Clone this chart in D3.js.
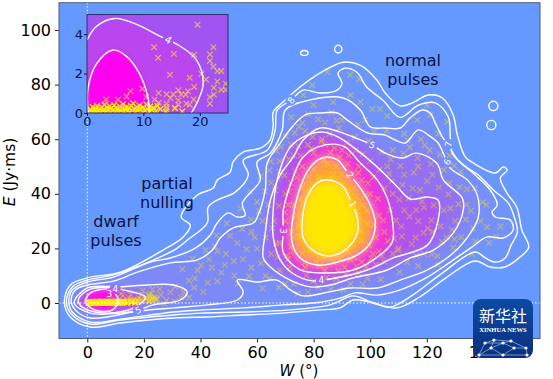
<!DOCTYPE html>
<html>
<head>
<meta charset="utf-8">
<script src="https://cdnjs.cloudflare.com/ajax/libs/d3/7.8.5/d3.min.js"></script>
<style>
  html, body { margin: 0; background: #fff; }
  text { font-family: "DejaVu Sans", sans-serif; }
</style>
</head>
<body>
<div id="chart"></div>
<script>
// Contour levels as [W, E]
const level1 = [[85.2,45.1],[90.5,42.5],[92.9,37.7],[95.4,31.5],[95.4,25.6],[91.9,20.1],[85.9,17.2],[80.6,18.7],[76.3,23.8],[76,30.4],[77.7,38.8],[81.3,44]];
const level2 = [[84.8,53.5],[88.4,52.4],[91.9,48],[96.5,42.1],[100,35.9],[101.8,29.3],[100,22],[95.4,17.6],[88.4,15],[81.3,13.9],[75.3,16.5],[72.4,22],[72.4,29.3],[74.6,40.3],[78.1,48.7],[81.6,52.4]];
const level3 = [[86.9,58.2],[91.2,57.1],[96.5,51.3],[102.5,45.1],[106,38.5],[108.1,27.8],[107.8,22.3],[102.5,16.8],[94,12.1],[83.4,11],[75.3,12.1],[69.3,18.3],[69.3,26.4],[69.3,34.1],[72.4,45.1],[76,53.1],[81.3,57.1]];
const level4 = [[83.4,62.6],[88.7,60.8],[94,57.1],[102.5,49.8],[109.6,42.5],[114.1,38.1],[120.2,38.8],[124,37.7],[124,30.4],[120.2,21.2],[108.1,16.5],[99,12.1],[85.9,8.8],[79.5,8.1],[72.4,11],[68.2,15.8],[65.7,24.2],[65.7,34.1],[67.1,45.1],[71.7,57.1],[77.7,61.5]];
const level5 = [[82.3,64.1],[89.4,62.6],[94,60.8],[100.7,57.9],[105.3,54.9],[111.3,53.1],[115.9,54.9],[120.5,53.5],[124,50.5],[125.8,45.1],[132.5,38.5],[132.9,34.1],[129.3,25.6],[122.3,19.4],[114.1,16.5],[106,12.1],[94,9.2],[85.9,6.6],[78.8,5.9],[71.7,8.4],[64.7,13.2],[62.2,16.5],[62.9,25.6],[64.7,37.7],[68.2,46.9],[72.8,53.5],[76.3,59.7]];
const level6 = [[53,8.4],[55.1,4],[53,1.1],[42.4,-0.7],[30.4,-1.8],[18.7,-2.9],[1.1,-5.5],[-4.2,-2.6],[-5.7,1.1],[-4.2,4.8],[0,6.6],[9.2,8],[17.7,11.3],[29.3,14.7],[38.9,15.8],[44.2,19.4],[47,23.8],[51.6,27.5],[58.7,29.3],[60.1,31.5],[62.9,41.4],[63.6,51.3],[68.2,58.6],[72.4,64.5],[77,68.9],[82.3,69.6],[88.4,69.6],[91.9,67],[99,62.3],[105.3,61.5],[108.8,59.7],[112.4,58.6],[117,63.4],[120.5,61.5],[124,58.6],[125.8,54.9],[128.3,49.4],[134.3,45.1],[137.8,39.6],[138.2,31.5],[135.4,25.6],[129.3,18.3],[120.2,12.1],[110.6,8.4],[102.5,5.5],[92.9,5.5],[85.2,4],[76.3,2.6],[71.7,4.8],[67.1,8.4],[60.1,7.7]];
const level7 = [[39.9,-2.6],[30.4,-3.3],[11.7,-5.9],[1.1,-7],[-5.3,-3.3],[-6.5,0.4],[-5.3,4.8],[0,7.7],[9.2,9.5],[22.3,15],[29.3,16.5],[38.2,20.1],[43.5,24.9],[45.9,29.3],[49.8,33],[53,31.5],[55.8,32.2],[54.8,36.6],[61.1,45],[60,51.6],[64.7,54.9],[68.9,63.4],[70,70.7],[78.8,74.4],[90.5,75.1],[96.5,70.7],[100,64.5],[105.3,64.1],[110.6,64.1],[114.1,67.8],[118.4,70.7],[121.2,69.6],[123,65.9],[125.5,60.8],[127.6,57.9],[130.4,53.1],[137.1,46.9],[142.4,41.4],[144.9,35.9],[143.1,33.3],[144.2,31.5],[149.5,30.4],[150.5,26.7],[147,23.8],[141.4,24.2],[135.4,20.1],[128.3,15],[120.2,9.5],[110.6,4.8],[102.5,2.9],[94.7,3.7],[89.4,1.8],[79.9,0],[69.3,-0.7],[55.1,-1.8]];
const level8 = [[66.4,63.3],[67.1,70.6],[72,74.3],[76.2,78],[82.2,76.9],[88.3,78],[90,80.5],[88.6,84.2],[91,86],[95.3,84.5],[98.8,79],[104.5,74.3],[110.5,68],[117,72.5],[123,73.3],[127.6,68.1],[128.3,60.4],[129,54.9],[132.9,50.5],[138.2,46.9],[143.5,41.4],[148.8,36.6],[150.9,31.5],[152,26],[149.8,21.2],[147.7,16.5],[144.2,15],[140.7,16.5],[137.1,18.7],[124.6,10.3],[115,2.9],[107,-1.5],[101,0],[94,2.6],[85.8,-0.7],[70.6,-2.6],[55,-3.3],[40,-3.7],[30.4,-4.4],[11.7,-6.2],[1,-7.7],[-5.3,-4.4],[-7.4,0.4],[-5.3,5.9],[0,8.4],[9.2,10.3],[23.3,15.7],[31.8,20.1],[35.3,23],[42.4,29.3],[42.7,35.1],[45.9,37.7],[52.3,40.6],[56.9,46.9],[55.1,52.3],[63.6,56]];
const level9 = [[137,15.4],[142.4,13.2],[147.6,13.2],[152.9,16.8],[156,20.5],[153.6,26.7],[151.8,35.1],[148.3,40.3],[146,45.8],[148.4,48.7],[147,49.8],[144.2,47.6],[136.4,51.3],[133.6,53.5],[130.8,61.5],[129.3,68.9],[125.5,75.1],[120.5,76.2],[114.9,73.3],[110.6,72.2],[105.3,76.9],[102.4,81.6],[96.4,87.1],[90.4,88.2],[82.2,84.2],[75.2,79.1],[69.2,73.6],[65.7,69.9],[65.7,65.1],[64.6,59.7],[61.1,56.7],[55.1,55.3],[51.5,51.6],[50.5,48],[45.9,45],[44.5,42.1],[38.8,39.5],[33.2,31.5],[36.4,28.5],[33.9,24.2],[26.8,19.4],[11.7,11.3],[0,9.2],[-6,6.6],[-8.1,0.4],[-6,-5.1],[1.1,-8.8],[11.7,-7.3],[30.4,-5.5],[42.4,-5.1],[55,-4.4],[69.2,-3.7],[81.2,-2.6],[89.3,-1.8],[93.9,1.1],[99.9,0.4],[109.4,-1.8],[117.5,2.2],[127.1,9.5]];
const dwarf3 = [[11,1.1],[8.8,-2.6],[2.8,-2.6],[-0.7,0.4],[1.1,3.7],[8.1,4.8]];
const dwarf4 = [[12.7,4.8],[20.5,2.2],[17,-1.5],[7,-3.7],[-1.4,-1.8],[-3.2,1.1],[0.4,4.8],[9.9,5.5]];
const dwarf5 = [[35.3,4],[32.9,1.1],[23.3,-0.7],[18,-2.6],[11.7,-3.7],[1.1,-3.7],[-4.6,0],[0,5.5],[11.7,5.9],[21.2,6.6],[30.4,6.6]];

// Small closed islands: centre W, centre E, half width, half height
const islands = [[76.7,91.6,1.3,0.9],[88.7,93,1.3,1.4],[143.5,72.2,1.6,1.7],[142.8,65.2,1.6,1.7]];

const contourLevels = [level9, level8, level7, level6, level5, level4, level3, level2, level1, dwarf5, dwarf4, dwarf3];
const fillColors = ["#6a97fd", "#6e95fb", "#7490fa", "#7d89f8", "#9370f4", "#ae55f0", "#f030d8", "#ffa035", "#ffe800", "#8a80f4", "#b850ee", "#ff08e8"];

const contourLabels = [["8",72,74.3,-50],["7",127.6,58.2,-80],["6",127.2,51.6,-65],["5",100.7,57.9,25],["5",18,-2.6,-25],["4",82.7,8.4,0],["4",9.9,5.3,0],["3",69.3,26.4,90],["3",7.8,3.3,0],["2",92.9,46.9,55],["1",94,36.3,60]];

const annotations = [["normal",413,60],["pulses",413,79],["partial",167,183],["nulling",167,202],["dwarf",116,221],["pulses",116,240]];

const xTicks = [0,20,40,60,80,100,120,140];
const yTicks = [0,20,40,60,80,100];
const insetXTicks = [0,10,20];
const insetYTicks = [0,2,4];

// Pulses near the origin, drawn in both panels
const lowPoints = [[0.4,0.05],[0.6,0.18],[0.8,0.1],[1,0.3],[1.1,0.02],[1.3,0.16],[1.5,0.08],[1.6,0.24],[1.8,0.35],[1.9,0.04],[2.1,0.14],[2.3,0.22],[2.5,0.06],[2.6,0.3],[2.8,0.12],[3,0.2],[3.1,0.42],[3.3,0.03],[3.5,0.27],[3.6,0.1],[3.8,0.18],[4,0.34],[4.2,0.05],[4.3,0.23],[4.6,0.14],[4.8,0.4],[5,0.08],[5.2,0.28],[5.4,0.17],[5.6,0.02],[5.8,0.33],[6,0.12],[6.2,0.24],[6.4,0.45],[6.6,0.07],[6.8,0.19],[7,0.31],[7.2,0.1],[7.4,0.26],[7.6,0.04],[7.8,0.37],[8,0.15],[8.2,0.48],[8.4,0.22],[8.6,0.06],[8.8,0.3],[9,0.13],[9.3,0.38],[9.5,0.2],[9.8,0.04],[10,0.29],[10.3,0.12],[10.5,0.44],[10.7,0.22],[11,0.06],[11.2,0.33],[11.5,0.15],[11.8,0.26],[12.2,0.09],[12.5,0.36],[13,0.2],[14,0.06],[15.6,0.25],[16.9,0.08]];
const scatterPoints = [[19.6,4.48],[11.9,3.34],[22.4,3.34],[12.6,2.8],[15.4,3],[19,2.96],[21.8,2.97],[21.8,2.64],[22.4,2.36],[23.1,2.13],[23.8,2.13],[14.7,1.94],[18.2,1.79],[20.3,1.99],[21.1,1.7],[23.1,1.6],[24.6,1.49],[7.7,1.11],[9.8,1.23],[3.4,0.69],[5.5,0.68],[7,0.84],[12.7,1.01],[16.2,1.15],[19,1.32],[17.9,1.1],[16.7,0.95],[17.5,0.93],[15.3,0.95],[14.1,0.95],[14.8,0.76],[10.5,0.81],[12,0.68],[12.7,0.52],[18.9,0.69],[17.6,0.47],[18.2,0.42],[16.2,0.64],[16.2,0.42],[15.6,0.25],[14.1,0.47],[14.1,0.3],[14.1,0.19],[22.5,1.28],[23.8,1.18],[24.6,1.18],[21.8,0.81],[22.5,0.93],[21.8,0.47]];

// Normal and partially nulled pulses, main panel only
const bodyPoints = [
  [84.8,84.6],[92.9,83.5],[96,82],[79.5,79.8],[76.3,76.2],[93,76.2],[96.5,73.6],[86.9,73.6],[80,72.5],[100.7,71],[103.5,71],[106,68.5],[98.2,67],[120,72.5],[121.2,68.8],[116.6,67],[127.2,66.3],[72,68],[76,66],[84,66],[90,67],[112,62],[118,60],[124,62],[108,56],[114,57],[121,56],[128,54],[132,48],[137,42],[141,36],[146,28],[142,22],[136,18],[139,30],[134,36],
  [128,44],[122,47],[117,50],[112,47],[106,50],[126,34],[130,30],[127,24],[122,26],[117,30],[112,34],[108,40],[115,42],[119,35],[111,28],[116,24],[110,20],[105,15],[99,9],[93,7],[86,5],[78,4],[70,7],[63,10],[58,13],[52,10],[46,8],[41,4],[36,2],[31,6],[26,3],[23,5],[21,1],[28,1],[34,4],[38,9],[44,13],[49,18],[55,16],[60,20],[58,26],[53,22],[46,19],
  [43,16],[39,12],[62,30],[60,37],[65,44],[68,52],[72,58],[77,63],[83,60],[89,64],[95,56],[100,52],[65,18],[68,12],[73,7],[80,8],[88,9],[96,11],[102,14],[108,18],[113,15],[119,18],[124,14],[63,24],[66,30],[64,36],[70,40],[68,48],[73,54],[78,58],[84,58],[90,56],[96,50],[101,46],[105,42],[107,34],[105,26],[103,19],[97,15],[91,13],[84,12],[77,13],[71,16],[68,22],
  [70,30],[71,36],[72,44],[76,50],[80,55],[86,55],[92,51],[97,45],[100,40],[103,32],[102,24],[98,20],[93,16],[87,15],[81,15],[76,18],[73,24],[74,32],[75,38],[77,44],[80,49],[85,51],[90,47],[94,42],[97,36],[99,29],[97,23],[92,19],[86,18],[80,20],[77,26],[78,33],[79,40],[82,46],[87,47],[91,41],[94,35],[95,28],[91,23],[85,21],[81,24],[80,30],[81,37],[84,42],[88,40],[91,34],[92,28],[88,24],[84,26],[83,32],[85,36],[88,33],[86,29],[84,39],[89,30],[82,28],[87,37],[90,26],[83,22],[86,43],[79,35],[93,31],[76,29],[95,39],[74,46],[88,50],[99,34],[73,19],[101,18],
  // denser parts of the cloud
  [70.6,17.4],[72.3,26.1],[69.8,33.2],[71.2,40.7],[73.6,48.2],[75.4,53.9],[79.1,56.6],[82.7,59.2],[87.3,56.8],[92.4,54.1],[95.8,47.7],[99.2,43.9],[102.7,38.2],[104.6,30.3],[106.2,22.7],[100.4,16.3],[95.1,13.4],[88.7,11.8],[82.2,13.6],[76.8,14.9],[72.1,20.6],[74.7,28.4],[73.1,35.8],[75.8,41.9],[78.2,46.3],[83.4,52.2],[89.1,53.4],[93.6,47.1],[98.2,39.3],[101.3,28.6],[99.6,21.2],[94.3,16.8],[89.4,16.2],[83.7,16.9],[78.6,19.7],[75.2,24.3],[78.9,29.6],[80.4,34.2],[82.6,41.1],[86.2,45.7],[89.9,43.1],[92.8,37.6],[93.9,30.8],[92.1,25.4],[87.1,21.9],[82.8,19.4],[79.8,27.3],[83.9,30.1],[86.4,34.8],[89.3,37.2],[90.8,31.7],[88.6,27.6],[85.2,24.7],[81.9,32.8],[84.1,36.7],[87.8,41.6],[91.1,28.3],[86.9,31.4],[83.2,26.8],[80.7,41.8],[78.3,36.4],[94.7,33.6],[96.9,26.2],[90.2,20.7],
  [66.7,21.8],[65.3,27.4],[67.8,35.6],[66.4,41.3],[69.7,46.8],[71.3,52.7],[74.6,57.4],[79.7,60.8],[85.6,61.9],[91.8,58.7],[97.4,54.6],[103.2,48.8],[107.7,44.6],[110.3,37.9],[109.1,30.2],[108.4,23.6],[104.2,17.1],[98.6,13.2],[91.3,10.4],[84.6,9.3],[77.4,10.2],[71.6,13.1],[67.2,16.8],[113.6,38.4],[118.3,37.2],[122.4,35.8],[121.6,30.3],[118.8,25.7],[114.7,21.6],[111.2,24.4],[113.9,31.7],[109.8,19.3],[116.2,34.1],[120.3,27.4],[124.8,28.1],[128.3,34.7],[131.2,36.2],[127.6,39.8],[124.2,42.3],[120.1,44.7],[115.4,47.8],[110.6,50.2],[106.7,47.3],[111.4,43.2],[117.6,41.4],[128.9,26.8],[125.3,22.4],[121.7,17.9],[116.4,17.3],[133.7,30.6],[136.4,27.2],[132.2,24.1],[129.4,20.2],[135.6,33.8],[131.6,42.4],[126.1,48.7],[121.4,50.9],[116.7,53.1],[111.8,54.7],[107.3,52.6],[103.9,55.4],[99.4,59.3],[94.6,60.7],[88.2,66.8],[81.6,67.3],[74.8,64.6],[70.2,61.1],[66.9,55.7],[64.3,48.6],[62.8,40.9],[60.7,33.7],[59.2,24.1],[56.3,19.7],[51.8,15.3],[47.4,11.2],[42.6,7.4],[37.7,5.6],[33.2,2.1],[29.4,3.9],[25.6,5.1],[24.1,1.8],[27.3,-0.4],[30.8,0.6],[35.9,8.2],[40.2,13.7],[45.1,20.8],[50.4,24.6],[54.7,27.1],[57.8,30.6],[48.6,13.9],[53.3,7.1],[57.2,9.8],[61.4,14.6],[64.6,8.9],[61.9,5.3],[67.7,5.7],[74.4,3.4],[81.7,5.8],[90.6,4.9],[97.3,6.8],[103.7,8.6],[110.4,11.3],[116.9,13.6],[123.7,17.2],[129.8,23.4],[137.2,22.6],[141.3,27.8],[144.6,24.3],[139.7,36.9],[134.2,41.7],[129.6,50.3],[124.7,54.3],[119.3,57.8],[113.2,59.6],[105.8,63.2],[101.3,62.8],[95.6,65.4],[86.3,69.8],[78.1,69.2],[73.3,62.4],[68.4,57.2],[64.9,51.9],[61.3,46.4],[57.6,40.8],[54.2,34.6],[49.3,29.2],[45.7,24.7],[41.8,19.3],[37.2,16.1],[33.6,12.4]
];

const width = 553;
const height = 379;
const svg = d3.select("#chart").append("svg").attr("width", width).attr("height", height);
const defs = svg.append("defs");

const x = d3.scaleLinear().domain([-10, 160]).range([59, 540]);
const y = d3.scaleLinear().domain([-13, 110]).range([338.5, 2.7]);
const insetX = d3.scaleLinear().domain([0, 25]).range([87, 228]);
const insetY = d3.scaleLinear().domain([0, 5]).range([113, 14.5]);

defs.append("clipPath").attr("id", "plotClip").append("rect")
  .attr("x", x(-10)).attr("y", y(110)).attr("width", x(160) - x(-10)).attr("height", y(-13) - y(110));
defs.append("clipPath").attr("id", "insetClip").append("rect")
  .attr("x", insetX(0)).attr("y", insetY(5)).attr("width", insetX(25) - insetX(0)).attr("height", insetY(0) - insetY(5));
defs.append("filter").attr("id", "soft").attr("x", "-20%").attr("y", "-20%").attr("width", "140%").attr("height", "140%")
  .append("feGaussianBlur").attr("stdDeviation", 4);
defs.append("filter").attr("id", "softer").attr("x", "-30%").attr("y", "-30%").attr("width", "160%").attr("height", "160%")
  .append("feGaussianBlur").attr("stdDeviation", 2);
defs.append("filter").attr("id", "blurMarks").attr("x", "0%").attr("y", "0%").attr("width", "100%").attr("height", "100%")
  .append("feGaussianBlur").attr("stdDeviation", 0.5);

const closedLine = (sx, sy) => d3.line().x(d => sx(d[0])).y(d => sy(d[1])).curve(d3.curveCatmullRomClosed.alpha(0.5));
const openLine = (sx, sy) => d3.line().x(d => sx(d[0])).y(d => sy(d[1])).curve(d3.curveCatmullRom.alpha(0.5));
const cross = "M-2.8,-2.8L2.8,2.8M-2.8,2.8L2.8,-2.8";
const bg = "#6699ff";

// Main panel
const plot = svg.append("g").attr("clip-path", "url(#plotClip)");
plot.append("rect").attr("x", x(-10)).attr("y", y(110)).attr("width", x(160) - x(-10)).attr("height", y(-13) - y(110)).attr("fill", bg);

const path = closedLine(x, y);
plot.append("g").attr("filter", "url(#soft)").selectAll("path")
  .data(contourLevels.slice(0, 9))
  .enter().append("path")
  .attr("d", path)
  .attr("fill", (d, i) => fillColors[i]);
plot.append("g").attr("filter", "url(#softer)").selectAll("path")
  .data(contourLevels.slice(9))
  .enter().append("path")
  .attr("d", path)
  .attr("fill", (d, i) => fillColors[i + 9]);

plot.append("g").attr("filter", "url(#blurMarks)").selectAll("path")
  .data(bodyPoints.concat(scatterPoints))
  .enter().append("path")
  .attr("transform", d => `translate(${x(d[0])},${y(d[1])})`)
  .attr("d", cross)
  .attr("stroke", "#ffe600")
  .attr("stroke-width", 1.3)
  .attr("stroke-opacity", 0.38)
  .attr("fill", "none");
plot.append("g").selectAll("path")
  .data(lowPoints)
  .enter().append("path")
  .attr("transform", d => `translate(${x(d[0])},${y(d[1])})`)
  .attr("d", cross)
  .attr("stroke", "#ffee00")
  .attr("stroke-width", 1.4)
  .attr("fill", "none");

plot.append("line").attr("x1", x(-10)).attr("x2", x(160)).attr("y1", y(0)).attr("y2", y(0))
  .attr("stroke", "#fff").attr("stroke-width", 1).attr("stroke-dasharray", "1.5,2");
plot.append("line").attr("x1", x(0)).attr("x2", x(0)).attr("y1", y(110)).attr("y2", y(-13))
  .attr("stroke", "#fff").attr("stroke-width", 1).attr("stroke-dasharray", "1.5,2");

// Contour lines, with gaps where the labels sit
const labelMask = defs.append("mask").attr("id", "labelGaps").attr("maskUnits", "userSpaceOnUse")
  .attr("x", 0).attr("y", 0).attr("width", width).attr("height", height);
labelMask.append("rect").attr("width", width).attr("height", height).attr("fill", "#fff");
labelMask.selectAll("circle").data(contourLabels).enter().append("circle")
  .attr("cx", d => x(d[1])).attr("cy", d => y(d[2])).attr("r", 5.5).attr("fill", "#000");

const lines = plot.append("g").attr("mask", "url(#labelGaps)");
lines.selectAll("path.level")
  .data(contourLevels)
  .enter().append("path")
  .attr("class", "level")
  .attr("d", path)
  .attr("fill", "none")
  .attr("stroke", "#fff")
  .attr("stroke-width", 1.4);
lines.selectAll("ellipse")
  .data(islands)
  .enter().append("ellipse")
  .attr("cx", d => x(d[0]))
  .attr("cy", d => y(d[1]))
  .attr("rx", d => x(d[2]) - x(0))
  .attr("ry", d => y(0) - y(d[3]))
  .attr("fill", "none")
  .attr("stroke", "#fff")
  .attr("stroke-width", 1.4);

plot.selectAll("text.clabel")
  .data(contourLabels)
  .enter().append("text")
  .attr("class", "clabel")
  .attr("transform", d => `translate(${x(d[1])},${y(d[2])}) rotate(${d[3]})`)
  .attr("text-anchor", "middle")
  .attr("dy", "0.36em")
  .attr("fill", "#fff")
  .style("font-size", "9px")
  .text(d => d[0]);

svg.selectAll("text.note")
  .data(annotations)
  .enter().append("text")
  .attr("class", "note")
  .attr("x", d => d[1])
  .attr("y", d => d[2])
  .attr("text-anchor", "middle")
  .attr("dy", "0.36em")
  .attr("fill", "#0a1240")
  .style("font-size", "16px")
  .text(d => d[0]);

// Axes
const xAxis = svg.append("g").attr("transform", `translate(0,${y(-13)})`)
  .call(d3.axisBottom(x).tickValues(xTicks).tickFormat(d3.format("d")).tickSize(4).tickPadding(4));
const yAxis = svg.append("g").attr("transform", `translate(${x(-10)},0)`)
  .call(d3.axisLeft(y).tickValues(yTicks).tickFormat(d3.format("d")).tickSize(4).tickPadding(4));
[xAxis, yAxis].forEach(a => {
  a.selectAll("text").style("font-size", "16px").attr("fill", "#000");
  a.selectAll("line").attr("stroke", "#222");
  a.select(".domain").remove();
});
svg.append("rect").attr("x", x(-10)).attr("y", y(110)).attr("width", x(160) - x(-10)).attr("height", y(-13) - y(110))
  .attr("fill", "none").attr("stroke", "#4a5a78").attr("stroke-width", 1);

svg.append("text").attr("x", 299).attr("y", 376).attr("text-anchor", "middle")
  .style("font-size", "15px").html('<tspan font-style="italic">W</tspan> (°)');
svg.append("text").attr("transform", "translate(15,172) rotate(-90)").attr("text-anchor", "middle")
  .style("font-size", "15.5px").html('<tspan font-style="italic">E</tspan> (Jy·ms)');

// Inset zoomed on the origin
const inset4 = [[0,3.7],[1.7,4.4],[4.9,4.8],[8.8,4.5],[12.9,3.9],[15.9,3.5],[19.4,2.7],[20.6,1.5],[19.7,0.64],[18.5,0]];
const inset3 = [[0.2,0],[0.2,1.3],[1.7,2.5],[4.6,3.2],[6.9,2.9],[9.3,2],[10.8,0.8],[11.1,0]];
const insetLabel = ["4", 14.4, 3.72, 30];

const inset = svg.append("g");
inset.append("rect").attr("x", insetX(0)).attr("y", insetY(5)).attr("width", insetX(25) - insetX(0)).attr("height", insetY(0) - insetY(5)).attr("fill", "#a254f2");
const insetPlot = inset.append("g").attr("clip-path", "url(#insetClip)");
const insetLine = openLine(insetX, insetY);
insetPlot.append("path").attr("d", closedLine(insetX, insetY)(inset4.concat([[0,0]]))).attr("fill", "#bb44ee").attr("filter", "url(#soft)");
insetPlot.append("path").attr("d", closedLine(insetX, insetY)(inset3.concat([[0,-0.3]]))).attr("fill", "#ff00f0").attr("filter", "url(#softer)");
insetPlot.selectAll("path.pt")
  .data(scatterPoints)
  .enter().append("path")
  .attr("class", "pt")
  .attr("transform", d => `translate(${insetX(d[0])},${insetY(d[1])})`)
  .attr("d", cross)
  .attr("stroke", "#ffd24a")
  .attr("stroke-width", 1.2)
  .attr("stroke-opacity", 0.7)
  .attr("fill", "none");
insetPlot.selectAll("path.low")
  .data(lowPoints)
  .enter().append("path")
  .attr("class", "low")
  .attr("transform", d => `translate(${insetX(d[0])},${insetY(d[1])})`)
  .attr("d", cross)
  .attr("stroke", "#ffee00")
  .attr("stroke-width", 1.3)
  .attr("fill", "none");
insetPlot.selectAll("path.line")
  .data([inset4, inset3])
  .enter().append("path")
  .attr("class", "line")
  .attr("d", insetLine)
  .attr("fill", "none")
  .attr("stroke", "#fff")
  .attr("stroke-width", 1.4);
insetPlot.append("circle").attr("cx", insetX(insetLabel[1])).attr("cy", insetY(insetLabel[2])).attr("r", 5.5).attr("fill", "#a254f2");
insetPlot.append("text")
  .attr("transform", `translate(${insetX(insetLabel[1])},${insetY(insetLabel[2])}) rotate(${insetLabel[3]})`)
  .attr("text-anchor", "middle").attr("dy", "0.36em").attr("fill", "#fff").style("font-size", "10px").text(insetLabel[0]);
inset.append("rect").attr("x", insetX(0)).attr("y", insetY(5)).attr("width", insetX(25) - insetX(0)).attr("height", insetY(0) - insetY(5))
  .attr("fill", "none").attr("stroke", "#2a2f6a").attr("stroke-width", 1);
const insetXAxis = inset.append("g").attr("transform", `translate(0,${insetY(0)})`)
  .call(d3.axisBottom(insetX).tickValues(insetXTicks).tickFormat(d3.format("d")).tickSize(3).tickPadding(1));
const insetYAxis = inset.append("g").attr("transform", `translate(${insetX(0)},0)`)
  .call(d3.axisLeft(insetY).tickValues(insetYTicks).tickFormat(d3.format("d")).tickSize(3).tickPadding(1));
[insetXAxis, insetYAxis].forEach(a => {
  a.selectAll("text").style("font-size", "13px").attr("fill", "#0a1240");
  a.selectAll("line").attr("stroke", "#0a1240");
  a.select(".domain").remove();
});

// News agency badge
const logoNodes = [[479,355],[491,348],[503,343],[514,348],[526,348],[503,355],[527,355],[485,343],[511,341],[494,340]];
const logoLinks = [[0,1],[1,2],[2,3],[3,4],[0,7],[7,2],[2,8],[8,4],[1,5],[5,3],[5,0],[5,6],[4,6],[7,9],[9,8],[9,1]];
defs.append("clipPath").attr("id", "logoClip").append("rect").attr("x", 473).attr("y", 299).attr("width", 60).attr("height", 59).attr("rx", 8);
defs.append("linearGradient").attr("id", "logoFill").attr("x1", 0).attr("x2", 0).attr("y1", 0).attr("y2", 1)
  .selectAll("stop").data([["0%", "#0c4aa6"], ["100%", "#0a2f7c"]]).enter().append("stop")
  .attr("offset", d => d[0]).attr("stop-color", d => d[1]);
const logo = svg.append("g").attr("clip-path", "url(#logoClip)");
logo.append("rect").attr("x", 473).attr("y", 299).attr("width", 60).attr("height", 59).attr("fill", "url(#logoFill)");
logo.selectAll("line").data(logoLinks).enter().append("line")
  .attr("x1", d => logoNodes[d[0]][0]).attr("y1", d => logoNodes[d[0]][1])
  .attr("x2", d => logoNodes[d[1]][0]).attr("y2", d => logoNodes[d[1]][1])
  .attr("stroke", "#9fc0ee").attr("stroke-width", 0.7);
logo.selectAll("circle").data(logoNodes).enter().append("circle")
  .attr("cx", d => d[0]).attr("cy", d => d[1]).attr("r", 1.6).attr("fill", "#fff");
svg.append("text").attr("x", 503).attr("y", 322).attr("text-anchor", "middle").attr("fill", "#fff")
  .style("font-family", '"Noto Sans CJK SC"').style("font-size", "16px").text("新华社");
svg.append("text").attr("x", 503).attr("y", 331.5).attr("text-anchor", "middle").attr("fill", "#fff")
  .style("font-family", '"Liberation Serif"').style("font-weight", "bold").style("font-size", "6.6px").text("XINHUA NEWS");
</script>
</body>
</html>
